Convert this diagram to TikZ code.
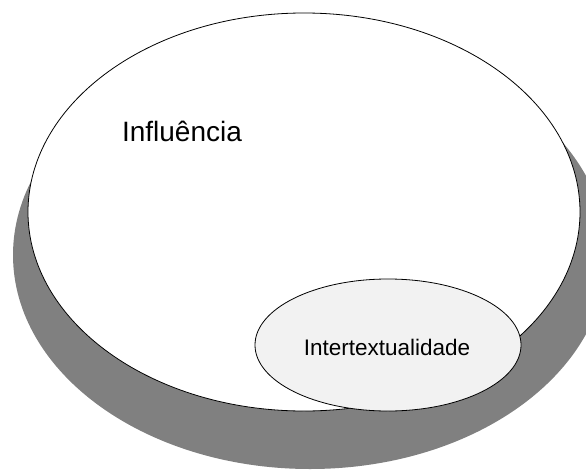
\documentclass[tikz,border=0pt]{standalone}
\usepackage{fontspec}
\setmainfont{Liberation Sans}
\usetikzlibrary{shapes.geometric}
\definecolor{shadowgray}{HTML}{808080}
\definecolor{innerfill}{HTML}{F2F2F2}
\tikzset{
  bubble/.style={ellipse, inner sep=0pt, outer sep=0pt},
  shadowbubble/.style={bubble, fill=shadowgray},
  outerbubble/.style={bubble, draw=black, line width=0.8pt, fill=white},
  innerbubble/.style={bubble, draw=black, line width=0.8pt, fill=innerfill},
  bigtext/.style={font=\fontsize{28}{32}\selectfont, inner sep=0pt, anchor=base},
  smalltext/.style={font=\fontsize{22.5}{26}\selectfont, inner sep=0pt, anchor=base}
}
\begin{document}
\begin{tikzpicture}[x=1pt, y=-1pt]
\useasboundingbox (0,0) rectangle (586,471);
\node[shadowbubble, minimum width=594pt, minimum height=428pt] (shadow) at (310,255) {};
\node[outerbubble, minimum width=552pt, minimum height=398pt] (influ) at (304,212) {};
\node[innerbubble, minimum width=266pt, minimum height=132pt] (inter) at (388,345) {};
\node[bigtext] (influtext) at (182,141) {Influência};
\node[smalltext] (intertext) at (387,355) {Intertextualidade};
\end{tikzpicture}
\end{document}
